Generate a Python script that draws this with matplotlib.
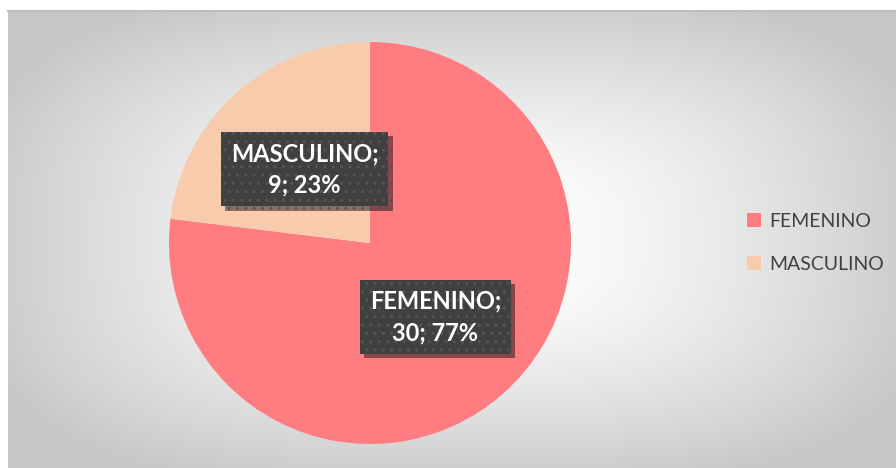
import numpy as np
import matplotlib
matplotlib.use('Agg')
import matplotlib.pyplot as plt
import matplotlib.patheffects as pe

# data
labels = ['FEMENINO', 'MASCULINO']
values = [30, 9]
colors = ['#ff7c80', '#f8cbad']

W, H = 896, 468
fig = plt.figure(figsize=(W / 100, H / 100), dpi=100)

# background with path gradient from the centre (chart area frame)
bg = fig.add_axes([8 / W, 0, (W - 8) / W, (H - 11) / H])
yy, xx = np.mgrid[0:457, 0:888]
dx = np.abs(xx - 444) / 444.0
dy = np.abs(yy - 228) / 229.0
d = (dx ** 3 + dy ** 3) ** (1 / 3.0)
d = np.clip((d - 0.15) / 0.95, 0, 1)
g = 1.0 - 0.22 * d ** 1.3
bg.imshow(np.dstack([g, g, g]), aspect='auto', extent=[0, 1, 0, 1], origin='lower')
bg.set_xlim(0, 1)
bg.set_ylim(0, 1)
for s in bg.spines.values():
    s.set_visible(False)
bg.spines['top'].set_visible(True)
bg.spines['top'].set_color('#bdbdbd')
bg.spines['top'].set_linewidth(1.5)
bg.set_xticks([])
bg.set_yticks([])

# pie
r = 201
cxp, cyp = 370, H - 243
ax = fig.add_axes([(cxp - r) / W, (cyp - r) / H, 2 * r / W, 2 * r / H])
wedges, _ = ax.pie(values, colors=colors, startangle=90, counterclock=False,
                   radius=1, wedgeprops=dict(linewidth=0))
ax.set_xlim(-1, 1)
ax.set_ylim(-1, 1)

total = sum(values)
for w, lab, v in zip(wedges, labels, values):
    ang = np.deg2rad((w.theta1 + w.theta2) / 2)
    x, y = 0.49 * np.cos(ang), 0.49 * np.sin(ang)
    pct = round(100 * v / total)
    t = ax.text(x, y, f'{lab};\n{v}; {pct}%', ha='center', va='center',
                color='white', fontsize=17, fontweight='bold', family='Lato',
                linespacing=1.45,
                bbox=dict(boxstyle='square,pad=0.42', facecolor='#404040',
                          edgecolor='#555555', linewidth=0, hatch='..'))
    t.get_bbox_patch().set_path_effects([
        pe.withSimplePatchShadow(offset=(3, -3), shadow_rgbFace='black', alpha=0.45),
        pe.Normal()])

leg = fig.legend(wedges, labels, loc='center left', bbox_to_anchor=(729 / W, 1 - 243 / H),
                 frameon=False, handlelength=0.75, handleheight=0.75, handletextpad=0.4,
                 labelspacing=1.35, prop=dict(family='Lato', size=14))
for txt in leg.get_texts():
    txt.set_color('#404040')

fig.savefig('out.png', dpi=100)
